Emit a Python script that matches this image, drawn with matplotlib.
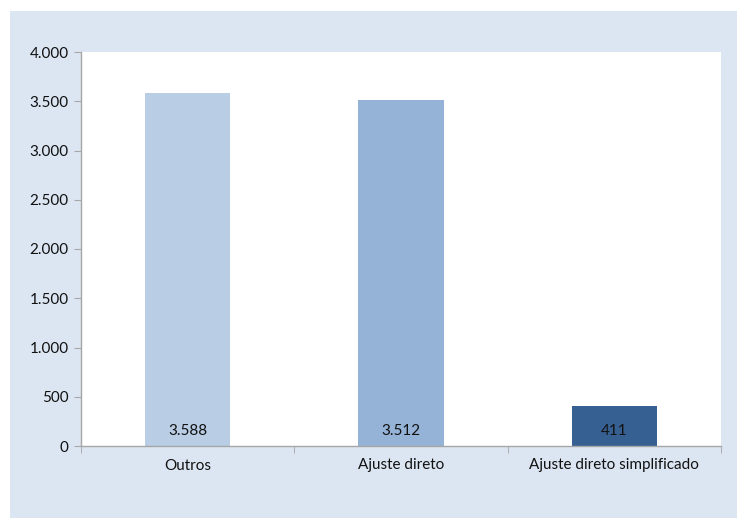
import matplotlib.pyplot as plt
from matplotlib.patches import Rectangle

# data
categories = ['Outros', 'Ajuste direto', 'Ajuste direto simplificado']
values = [3588, 3512, 411]
bar_colors = ['#B9CDE5', '#95B3D7', '#376092']
y_ticks = [0, 500, 1000, 1500, 2000, 2500, 3000, 3500, 4000]


def fmt_pt(v):
	# portuguese thousand separator
	return '{:,}'.format(v).replace(',', '.')


plt.rcParams['font.family'] = ['Lato', 'DejaVu Sans']

fig = plt.figure(figsize=(7.37, 5.18), dpi=100)
fig.patch.set_facecolor('white')
# light blue chart area behind the plot
fig.patches.append(Rectangle((10 / 737, 0), 1, 1 - 11 / 518, transform=fig.transFigure,
                             facecolor='#DCE6F2', edgecolor='none', zorder=-5))

ax = fig.add_axes([81 / 737, (518 - 446) / 518, 640 / 737, 394 / 518])
ax.set_facecolor('white')

x = list(range(len(categories)))
ax.bar(x, values, width=0.4, color=bar_colors, zorder=2)

for i, v in enumerate(values):
	ax.annotate(fmt_pt(v), (x[i], 0), xytext=(0, 6), textcoords='offset points',
	            ha='center', va='bottom', fontsize=11, color='#111111')

ax.set_xlim(-0.5, len(categories) - 0.5)
ax.set_ylim(0, 4000)
ax.set_yticks(y_ticks)
ax.set_yticklabels([fmt_pt(t) for t in y_ticks], fontsize=11, color='#111111')

ax.set_xticks(x)
ax.set_xticklabels(categories, fontsize=11, color='#111111')
ax.tick_params(axis='x', length=0, pad=9)
# category separators on the x axis
ax.set_xticks([-0.5, 0.5, 1.5, 2.5], minor=True)
ax.tick_params(axis='x', which='minor', length=5, color='#A6A6A6', direction='out')
ax.tick_params(axis='y', length=5, color='#A6A6A6', direction='out', pad=4)

for s in ['top', 'right']:
	ax.spines[s].set_visible(False)
for s in ['left', 'bottom']:
	ax.spines[s].set_color('#A6A6A6')
	ax.spines[s].set_linewidth(1)

fig.savefig('out.png', dpi=100)
